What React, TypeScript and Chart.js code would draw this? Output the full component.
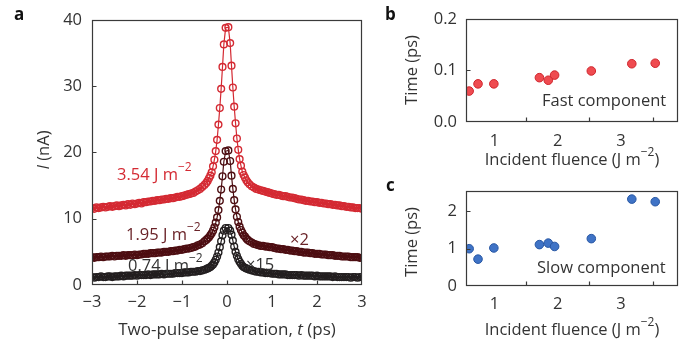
import React, { useEffect, useRef } from "react";
import { Chart, registerables } from "chart.js";
Chart.register(...registerables);

const FONT = "'Open Sans', 'Noto Sans', sans-serif";
const TEXT = "#333333";
const AXIS = "#3a3a3a";
const RED = "#d42a33";
const DARK = "#4d0e12";
const BLACK = "#231f20";
const DARK_TEXT = "#6a2328";
const FS = 16.5;

// Panel a: two-pulse separation (ps)
const timePs = [
  -3.0, -2.95, -2.9, -2.85, -2.8, -2.75, -2.7, -2.65, -2.6, -2.55,
  -2.5, -2.45, -2.4, -2.35, -2.3, -2.25, -2.2, -2.15, -2.1, -2.05,
  -2.0, -1.95, -1.9, -1.85, -1.8, -1.75, -1.7, -1.65, -1.6, -1.55,
  -1.5, -1.45, -1.4, -1.35, -1.3, -1.25, -1.2, -1.15, -1.1, -1.05,
  -1.0, -0.95, -0.9, -0.85, -0.8, -0.75, -0.7, -0.65, -0.6, -0.55,
  -0.5, -0.46, -0.43, -0.4, -0.37, -0.34, -0.31, -0.28, -0.25, -0.22, -0.19, -0.16, -0.13, -0.1, -0.07, -0.03,
  0.03, 0.07, 0.1, 0.13, 0.16, 0.19, 0.22, 0.25, 0.28, 0.31, 0.34, 0.37, 0.4, 0.43, 0.46, 0.5,
  0.55, 0.6, 0.65, 0.7, 0.75, 0.8, 0.85, 0.9, 0.95, 1.0,
  1.05, 1.1, 1.15, 1.2, 1.25, 1.3, 1.35, 1.4, 1.45, 1.5,
  1.55, 1.6, 1.65, 1.7, 1.75, 1.8, 1.85, 1.9, 1.95, 2.0,
  2.05, 2.1, 2.15, 2.2, 2.25, 2.3, 2.35, 2.4, 2.45, 2.5,
  2.55, 2.6, 2.65, 2.7, 2.75, 2.8, 2.85, 2.9, 2.95, 3.0,
];

// I (nA) at 3.54 J m^-2
const current354 = [
  11.6, 11.5, 11.7, 11.6, 11.7, 11.8, 11.7, 11.8, 11.9, 11.8,
  11.9, 12.0, 11.9, 12.0, 12.1, 12.0, 12.2, 12.1, 12.3, 12.2,
  12.3, 12.4, 12.3, 12.5, 12.5, 12.6, 12.6, 12.7, 12.7, 12.8,
  12.8, 12.9, 12.9, 13.0, 13.0, 13.1, 13.1, 13.2, 13.3, 13.3,
  13.4, 13.5, 13.6, 13.7, 13.8, 13.9, 14.1, 14.3, 14.5, 14.8,
  15.1, 15.4, 15.7, 16.1, 16.5, 17.0, 17.9, 18.9, 20.2, 21.9, 24.2, 26.7, 29.6, 32.9, 36.3, 38.8,
  38.9, 36.5, 33.1, 29.8, 26.9, 24.4, 22.1, 20.4, 19.0, 18.0, 17.1, 16.6, 16.2, 15.8, 15.5, 15.2,
  14.9, 14.7, 14.5, 14.4, 14.3, 14.2, 14.1, 14.0, 13.9, 13.8,
  13.7, 13.6, 13.6, 13.5, 13.4, 13.4, 13.3, 13.2, 13.2, 13.1,
  13.0, 12.9, 12.9, 12.8, 12.7, 12.7, 12.6, 12.6, 12.5, 12.5,
  12.4, 12.4, 12.3, 12.3, 12.2, 12.2, 12.1, 12.1, 12.0, 12.0,
  11.9, 11.9, 11.8, 11.8, 11.7, 11.7, 11.6, 11.6, 11.6, 11.5,
];

// I (nA) x2 at 1.95 J m^-2
const current195 = [
  4.2, 4.1, 4.2, 4.2, 4.3, 4.2, 4.3, 4.3, 4.3, 4.4,
  4.3, 4.4, 4.4, 4.4, 4.5, 4.4, 4.5, 4.5, 4.5, 4.6,
  4.5, 4.6, 4.6, 4.7, 4.7, 4.7, 4.8, 4.8, 4.8, 4.9,
  4.9, 4.9, 5.0, 5.0, 5.0, 5.1, 5.1, 5.2, 5.2, 5.3,
  5.3, 5.4, 5.5, 5.5, 5.6, 5.7, 5.8, 6.0, 6.1, 6.3,
  6.6, 6.8, 7.0, 7.2, 7.5, 7.8, 8.2, 8.7, 9.4, 10.2, 11.3, 12.7, 14.4, 16.4, 18.6, 20.2,
  20.3, 18.7, 16.5, 14.5, 12.8, 11.4, 10.3, 9.5, 8.8, 8.3, 7.9, 7.5, 7.3, 7.0, 6.8, 6.6,
  6.4, 6.2, 6.1, 6.0, 5.9, 5.9, 5.8, 5.8, 5.7, 5.7,
  5.6, 5.5, 5.5, 5.4, 5.4, 5.3, 5.3, 5.2, 5.2, 5.1,
  5.1, 5.0, 5.0, 4.9, 4.9, 4.9, 4.8, 4.8, 4.7, 4.7,
  4.7, 4.6, 4.6, 4.6, 4.5, 4.5, 4.5, 4.4, 4.4, 4.4,
  4.3, 4.3, 4.3, 4.3, 4.2, 4.2, 4.2, 4.2, 4.1, 4.1,
];

// I (nA) x15 at 0.74 J m^-2
const current074 = [
  1.2, 1.1, 1.2, 1.2, 1.3, 1.2, 1.2, 1.3, 1.3, 1.2,
  1.3, 1.3, 1.3, 1.4, 1.3, 1.4, 1.4, 1.4, 1.4, 1.5,
  1.4, 1.5, 1.5, 1.5, 1.5, 1.6, 1.5, 1.6, 1.6, 1.6,
  1.6, 1.7, 1.6, 1.7, 1.7, 1.7, 1.7, 1.8, 1.8, 1.8,
  1.8, 1.9, 1.9, 1.9, 2.0, 2.0, 2.0, 2.1, 2.1, 2.2,
  2.3, 2.4, 2.5, 2.6, 2.7, 2.9, 3.1, 3.4, 3.8, 4.3, 4.9, 5.7, 6.6, 7.5, 8.2, 8.6,
  8.6, 8.2, 7.6, 6.7, 5.8, 5.0, 4.4, 3.9, 3.5, 3.2, 2.9, 2.7, 2.6, 2.5, 2.4, 2.3,
  2.2, 2.1, 2.0, 2.0, 1.9, 1.9, 1.8, 1.8, 1.8, 1.7,
  1.7, 1.7, 1.6, 1.6, 1.6, 1.6, 1.5, 1.5, 1.5, 1.5,
  1.5, 1.4, 1.5, 1.4, 1.4, 1.4, 1.4, 1.4, 1.3, 1.4,
  1.3, 1.3, 1.3, 1.3, 1.3, 1.3, 1.2, 1.3, 1.2, 1.2,
  1.2, 1.2, 1.2, 1.2, 1.1, 1.2, 1.2, 1.1, 1.2, 1.2,
];

// Panels b, c
const fluence = [0.6, 0.74, 0.99, 1.71, 1.85, 1.95, 2.53, 3.17, 3.54];
const fastTime = [0.06, 0.074, 0.074, 0.086, 0.081, 0.091, 0.099, 0.113, 0.114];
const slowTime = [1.0, 0.72, 1.02, 1.11, 1.15, 1.06, 1.27, 2.33, 2.26];

const ticksAX = [-2, -1, 0, 1, 2];
const ticksAY = [10, 20, 30];
const ticksBX = [1.5, 2.5, 3.5];
const ticksBY = [0.1];
const ticksCY = [1, 2];

type Run = { t: string; it?: boolean; sup?: boolean; bold?: boolean };

function fontOf(r: Run, size: number) {
  const s = r.sup ? Math.round(size * 0.7) : size;
  return `${r.it ? "italic " : ""}${r.bold ? "bold " : ""}${s}px ${FONT}`;
}

function drawRuns(
  ctx: CanvasRenderingContext2D,
  runs: Run[],
  x: number,
  y: number,
  align: "left" | "center",
  color: string,
  size = FS
) {
  ctx.save();
  ctx.fillStyle = color;
  ctx.textBaseline = "alphabetic";
  ctx.textAlign = "left";
  const widths = runs.map((r) => {
    ctx.font = fontOf(r, size);
    return ctx.measureText(r.t).width;
  });
  const total = widths.reduce((a, b) => a + b, 0);
  let cx = align === "center" ? x - total / 2 : x;
  runs.forEach((r, i) => {
    ctx.font = fontOf(r, size);
    ctx.fillText(r.t, cx, r.sup ? y - size * 0.52 : y);
    cx += widths[i];
  });
  ctx.restore();
}

function drawRotated(ctx: CanvasRenderingContext2D, runs: Run[], x: number, y: number, color: string) {
  ctx.save();
  ctx.translate(x, y);
  ctx.rotate(-Math.PI / 2);
  drawRuns(ctx, runs, 0, 0, "center", color);
  ctx.restore();
}

function decor(xt: number[], yt: number[], draw: (ctx: CanvasRenderingContext2D) => void) {
  return {
    id: "decor",
    afterDraw(chart: any) {
      const { ctx, chartArea: a, scales } = chart;
      ctx.save();
      ctx.strokeStyle = AXIS;
      ctx.lineWidth = 1.2;
      const L = Math.round(a.left) + 0.5;
      const R = Math.round(a.right) - 0.5;
      const T = Math.round(a.top) + 0.5;
      const B = Math.round(a.bottom) - 0.5;
      ctx.strokeRect(L, T, R - L, B - T);
      ctx.beginPath();
      for (const v of xt) {
        const px = Math.round(scales.x.getPixelForValue(v)) + 0.5;
        ctx.moveTo(px, B);
        ctx.lineTo(px, B - 4);
      }
      for (const v of yt) {
        const py = Math.round(scales.y.getPixelForValue(v)) + 0.5;
        ctx.moveTo(L, py);
        ctx.lineTo(L + 4, py);
      }
      ctx.stroke();
      ctx.restore();
      draw(ctx);
    },
  };
}

const tickFont = { family: FONT, size: FS };
const minus = (v: number) => (v < 0 ? "\u2212" + Math.abs(v) : String(v));

function seriesA(vals: number[], color: string, order: number) {
  return {
    data: timePs.map((t, i) => ({ x: t, y: vals[i] })),
    borderColor: color,
    borderWidth: 1.2,
    segment: {
      borderWidth: (c: any) => (Math.abs(c.p0.parsed.x) > 0.5 && Math.abs(c.p1.parsed.x) > 0.5 ? 3.2 : 1.2),
    },
    pointRadius: 3.4,
    pointBorderWidth: 1.4,
    pointBorderColor: color,
    pointBackgroundColor: "rgba(0,0,0,0)",
    tension: 0,
    order,
  };
}

function makeA(canvas: HTMLCanvasElement) {
  return new Chart(canvas, {
    type: "line",
    data: {
      datasets: [
        seriesA(current074, BLACK, 1),
        seriesA(current195, DARK, 2),
        seriesA(current354, RED, 3),
      ] as any,
    },
    options: {
      animation: false,
      responsive: false,
      events: [],
      layout: { padding: { top: 15, right: 18, bottom: 0, left: 0 } },
      plugins: { legend: { display: false }, tooltip: { enabled: false } },
      scales: {
        x: {
          type: "linear",
          min: -3,
          max: 3,
          grid: { display: false, drawTicks: false },
          border: { display: false },
          ticks: { stepSize: 1, font: tickFont, color: TEXT, padding: 7, callback: (v: any) => minus(Number(v)) },
          afterFit: (s: any) => {
            s.height = 60;
          },
        },
        y: {
          min: 0,
          max: 40,
          grid: { display: false, drawTicks: false },
          border: { display: false },
          ticks: { stepSize: 10, font: tickFont, color: TEXT, padding: 10 },
          afterFit: (s: any) => {
            s.width = 92;
          },
        },
      },
    } as any,
    plugins: [
      decor(ticksAX, ticksAY, (ctx) => {
        drawRuns(ctx, [{ t: "a", bold: true }], 14, 20, "left", "#111", 17);
        drawRotated(ctx, [{ t: "I", it: true }, { t: " (nA)" }], 49, 150, TEXT);
        drawRuns(
          ctx,
          [{ t: "Two-pulse separation, " }, { t: "t", it: true }, { t: " (ps)" }],
          227,
          335,
          "center",
          TEXT,
          17
        );
        drawRuns(ctx, [{ t: "3.54 J m" }, { t: "\u22122", sup: true }], 117, 180, "left", RED);
        drawRuns(ctx, [{ t: "1.95 J m" }, { t: "\u22122", sup: true }], 126, 240, "left", DARK_TEXT);
        drawRuns(ctx, [{ t: "0.74 J m" }, { t: "\u22122", sup: true }], 128, 271, "left", TEXT);
        drawRuns(ctx, [{ t: "\u00d72" }], 290, 245, "left", DARK_TEXT);
        drawRuns(ctx, [{ t: "\u00d715" }], 246, 270, "left", TEXT);
      }),
    ],
  });
}

function makeScatter(
  canvas: HTMLCanvasElement,
  vals: number[],
  fill: string,
  stroke: string,
  yMax: number,
  yStep: number,
  yTicks: number[],
  pad: { top: number; xh: number },
  yFmt: (v: number) => string,
  draw: (ctx: CanvasRenderingContext2D) => void,
  xPad: number
) {
  return new Chart(canvas, {
    type: "scatter",
    data: {
      datasets: [
        {
          data: fluence.map((f, i) => ({ x: f, y: vals[i] })),
          backgroundColor: fill,
          borderColor: stroke,
          borderWidth: 1,
          pointRadius: 4.3,
        },
      ],
    },
    options: {
      animation: false,
      responsive: false,
      events: [],
      layout: { padding: { top: pad.top, right: 8, bottom: 0, left: 0 } },
      plugins: { legend: { display: false }, tooltip: { enabled: false } },
      scales: {
        x: {
          type: "linear",
          min: 0.55,
          max: 3.9,
          grid: { display: false, drawTicks: false },
          border: { display: false },
          ticks: { stepSize: 1, includeBounds: false, font: tickFont, color: TEXT, padding: xPad },
          afterFit: (s: any) => {
            s.height = pad.xh;
          },
        },
        y: {
          min: 0,
          max: yMax,
          grid: { display: false, drawTicks: false },
          border: { display: false },
          ticks: {
            stepSize: yStep,
            includeBounds: false,
            font: tickFont,
            color: TEXT,
            padding: 9,
            callback: (v: any) => yFmt(Number(v)),
          },
          afterFit: (s: any) => {
            s.width = 86;
          },
        },
      },
    } as any,
    plugins: [decor(ticksBX, yTicks, draw)],
  });
}

export default function App() {
  const aRef = useRef<HTMLCanvasElement>(null);
  const bRef = useRef<HTMLCanvasElement>(null);
  const cRef = useRef<HTMLCanvasElement>(null);

  useEffect(() => {
    const charts: Chart[] = [];
    charts.push(makeA(aRef.current!));
    charts.push(
      makeScatter(
        bRef.current!,
        fastTime,
        "#ef4b50",
        "#cf252c",
        0.2,
        0.1,
        ticksBY,
        { top: 16, xh: 50 },
        (v) => v.toFixed(1),
        (ctx) => {
          drawRuns(ctx, [{ t: "b", bold: true }], 5, 20, "left", "#111", 17);
          drawRotated(ctx, [{ t: "Time (ps)" }], 37, 70, TEXT);
          drawRuns(ctx, [{ t: "Incident fluence (J m" }, { t: "\u22122", sup: true }, { t: ")" }], 192, 165, "center", TEXT);
          drawRuns(ctx, [{ t: "Fast component" }], 162, 106, "left", TEXT);
        },
        9
      )
    );
    charts.push(
      makeScatter(
        cRef.current!,
        slowTime,
        "#3f73c6",
        "#2857a3",
        2.55,
        1,
        ticksCY,
        { top: 8, xh: 59 },
        (v) => String(v),
        (ctx) => {
          drawRuns(ctx, [{ t: "c", bold: true }], 6, 19, "left", "#111", 17);
          drawRotated(ctx, [{ t: "Time (ps)" }], 37, 70, TEXT);
          drawRuns(ctx, [{ t: "Incident fluence (J m" }, { t: "\u22122", sup: true }, { t: ")" }], 192, 163, "center", TEXT);
          drawRuns(ctx, [{ t: "Slow component" }], 157, 101, "left", TEXT);
        },
        8
      )
    );
    return () => charts.forEach((c) => c.destroy());
  }, []);

  const cs = (left: number, top: number): React.CSSProperties => ({
    position: "absolute",
    left,
    top,
    display: "block",
  });

  return (
    <div style={{ position: "fixed", left: 0, top: 0, width: 686, height: 345, background: "#fff" }}>
      <canvas ref={aRef} width={380} height={345} style={cs(0, 0)} />
      <canvas ref={bRef} width={306} height={172} style={cs(380, 0)} />
      <canvas ref={cRef} width={306} height={173} style={cs(380, 172)} />
    </div>
  );
}
